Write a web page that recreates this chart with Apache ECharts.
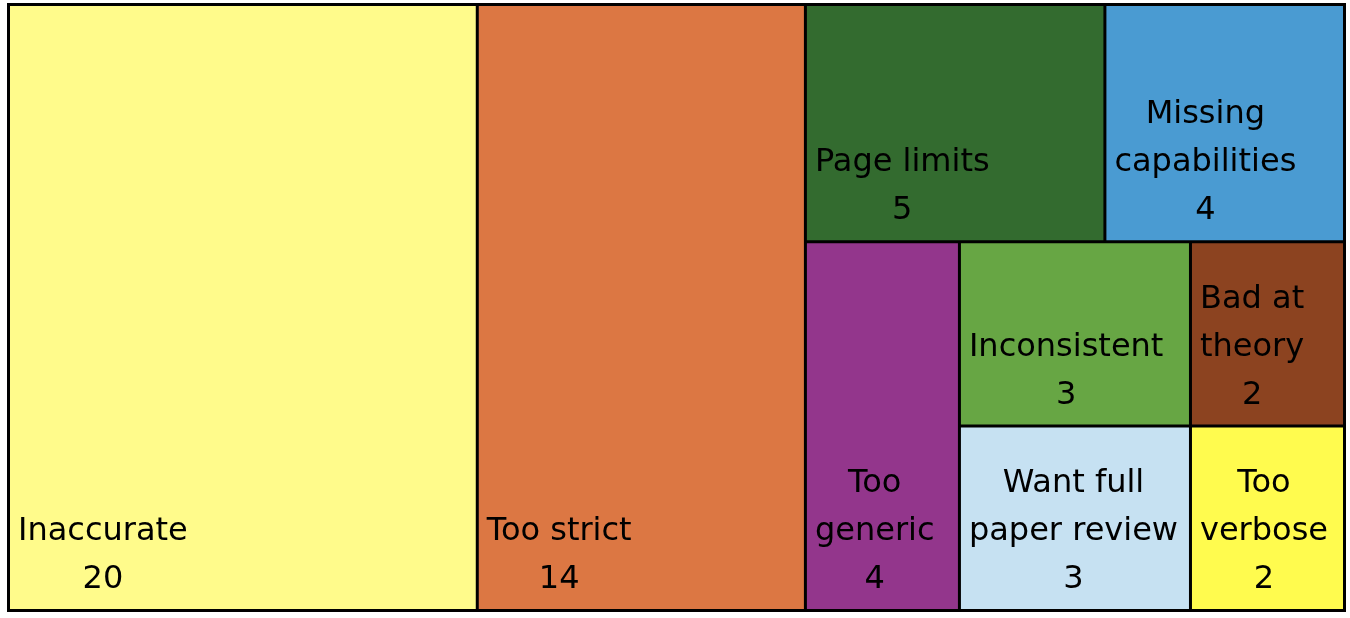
<!DOCTYPE html>
<html>
<head>
<meta charset="utf-8">
<script src="https://cdn.jsdelivr.net/npm/echarts@6/dist/echarts.min.js"></script>
<style>
  html, body { margin: 0; padding: 0; background: #fff; }
  #chart { width: 1350px; height: 618px; }
</style>
</head>
<body>
<div id="chart"></div>
<script>
// leaf categories and counts
const categories = ['Inaccurate', 'Too strict', 'Page limits', 'Missing capabilities', 'Too generic',
  'Inconsistent', 'Want full paper review', 'Bad at theory', 'Too verbose']
const counts = [20, 14, 5, 4, 4, 3, 3, 2, 2]
// how each label wraps inside its tile
const labelLines = [
  ['Inaccurate'], ['Too strict'], ['Page limits'], ['Missing', 'capabilities'], ['Too', 'generic'],
  ['Inconsistent'], ['Want full', 'paper review'], ['Bad at', 'theory'], ['Too', 'verbose'],
]
const colors = ['#FFFB8B', '#DC7743', '#336B2F', '#4A9BD2', '#93368C',
  '#67A644', '#C6E1F2', '#8C4320', '#FFFB4E']
// nesting (by index) that reproduces the tile arrangement
const groups = [0, 1, [2, 3, 4, [[5, 6], [7, 8]]]]

const FONT = 'DejaVu Sans'
const FONT_SIZE = 32
const LINE_H = 48
const BORDER = 1.5
const BOTTOM_GAP = 5

const ctx = document.createElement('canvas').getContext('2d')
ctx.font = FONT_SIZE + 'px "' + FONT + '"'

// top padding per leaf (filled in after the first layout pass)
const topPad = {}

function leaf(i) {
  const lines = labelLines[i].concat([String(counts[i])])
  const widths = lines.map(s => ctx.measureText(s).width)
  const maxW = Math.max(...widths)
  const rich = {}
  lines.forEach((s, k) => {
    rich['l' + k] = {
      fontFamily: FONT, fontSize: FONT_SIZE, lineHeight: LINE_H, color: '#000',
      padding: [0, 0, 0, (maxW - widths[k]) / 2],
    }
  })
  return {
    name: categories[i],
    value: counts[i],
    itemStyle: { color: colors[i], borderWidth: BORDER, borderColor: '#000' },
    label: {
      formatter: lines.map((s, k) => '{l' + k + '|' + s + '}').join('\n'),
      padding: [topPad[categories[i]] || 0, 0, 0, 8],
      rich,
    },
  }
}

function build(node) {
  if (typeof node === 'number') return leaf(node)
  const children = node.map(build)
  return { name: '', value: children.reduce((a, c) => a + c.value, 0), children }
}

const chart = echarts.init(document.getElementById('chart'))

function render() {
  chart.setOption({
    animation: false,
    series: [{
      type: 'treemap',
      left: 7, top: 3, width: 1339, height: 609,
      sort: false,
      roam: false,
      nodeClick: false,
      breadcrumb: { show: false },
      squareRatio: 1,
      itemStyle: { borderColor: '#000', borderWidth: 0, gapWidth: 0 },
      upperLabel: { show: false },
      label: {
        show: true,
        position: 'insideTopLeft',
        distance: 0,
        fontFamily: FONT,
        fontSize: FONT_SIZE,
        lineHeight: LINE_H,
        color: '#000',
      },
      levels: [{ itemStyle: { borderWidth: BORDER, borderColor: '#000', gapWidth: 0 } }],
      data: groups.map(build),
    }],
  })
}

render()

// push each label block down to the bottom of its tile, like the original
const tree = chart.getModel().getSeriesByIndex(0).getData().tree
tree.root.eachNode(node => {
  const i = categories.indexOf(node.name)
  if (i < 0 || (node.children && node.children.length)) return
  const h = node.getLayout().height - 2 * BORDER
  const n = labelLines[i].length + 1
  topPad[node.name] = Math.max(h - n * LINE_H - BOTTOM_GAP, 0)
})
render()
</script>
</body>
</html>
